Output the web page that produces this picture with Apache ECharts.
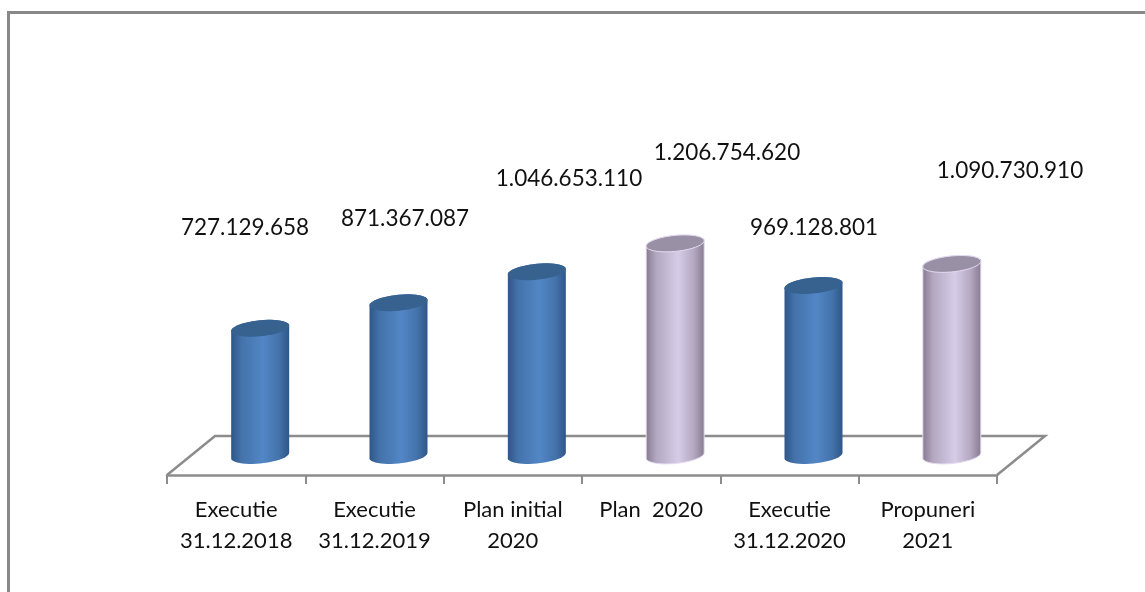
<!DOCTYPE html>
<html><head><meta charset="utf-8">
<style>html,body{margin:0;padding:0;background:#fff}#c{width:1145px;height:592px}</style>
<script src="https://cdn.jsdelivr.net/npm/echarts@6/dist/echarts.min.js"></script>
</head><body><div id="c"></div>
<script>
const categories = ['Executie\n31.12.2018','Executie\n31.12.2019','Plan initial\n2020','Plan  2020','Executie\n31.12.2020','Propuneri\n2021'];
const values = [727129658, 871367087, 1046653110, 1206754620, 969128801, 1090730910];
const valueLabels = ['727.129.658','871.367.087','1.046.653.110','1.206.754.620','969.128.801','1.090.730.910'];
const palette = ['blue','blue','blue','purple','blue','purple'];

const labelAnchors = [[245,228],[405,219],[569,179],[727,153],[814,228],[1010,171]];
const looks = {
  blue:{edge:'#2f5688',mid:'#5286c6',top:'#37618f',rim:'#4473ab',line:'none'},
  purple:{edge:'#85798f',mid:'#d6cce8',top:'#9a90a6',rim:'#b3a8c0',line:'#e4dcf2'}
};
const A = 29, B = 8, S = 2.7, DX = 24, LIFT = 19.5;
function arc(cx,cy,from,to,n){
  const pts=[];
  for(let i=0;i<=n;i++){
    const t=from+(to-from)*i/n;
    pts.push([cx+A*Math.cos(t), cy+B*Math.sin(t)-S*Math.cos(t)]);
  }
  return pts;
}
const chart = echarts.init(document.getElementById('c'),null,{renderer:'canvas'});
chart.setOption({
  animation:false,
  backgroundColor:'#fff',
  grid:{left:167,right:148,top:209.5,bottom:117,containLabel:false},
  xAxis:{type:'category',data:categories,boundaryGap:true,
    axisLine:{show:true,lineStyle:{color:'#8c8c8c',width:2.5}},
    axisTick:{show:true,length:9,alignWithLabel:false,lineStyle:{color:'#8c8c8c',width:2}},
    axisLabel:{interval:0,color:'#111',fontFamily:'Lato',fontSize:22,lineHeight:31,margin:19},
    splitLine:{show:false}},
  yAxis:{type:'value',min:0,max:1500000000,show:false,splitLine:{show:false}},
  graphic:[
    {type:'polyline',z:-1,silent:true,shape:{points:[[167,475],[215,436],[1045,436],[997,475]]},style:{stroke:'#8c8c8c',lineWidth:2.5,fill:null}},
    {type:'polyline',z:-1,silent:true,shape:{points:[[8.5,592],[8.5,12.5],[1145,12.5]]},style:{stroke:'#888888',lineWidth:3,fill:null}}
  ],
  series:[{
    type:'custom',
    coordinateSystem:'cartesian2d',
    clip:false,
    data:values.map((v,i)=>[i,v]),
    encode:{x:0,y:1},
    renderItem(params,api){
      const i=api.value(0);
      const base=api.coord([i,0]), top=api.coord([i,api.value(1)]);
      const cx=base[0]+DX, by=base[1]-LIFT, ty=top[1]-LIFT+1.5;
      const c=looks[palette[i]];
      const body=arc(cx,ty,Math.PI,Math.PI*2,24).concat(arc(cx,by,0,Math.PI,24));
      return {type:'group',children:[
        {type:'polygon',shape:{points:body},style:{
          stroke:c.line,lineWidth:1,
          fill:new echarts.graphic.LinearGradient(0,0,1,0,[
            {offset:0,color:c.edge},{offset:.18,color:c.rim},{offset:.55,color:c.mid},{offset:.82,color:c.rim},{offset:1,color:c.edge}])}},
        {type:'polygon',shape:{points:arc(cx,ty,0,Math.PI*2,48)},style:{fill:c.top,stroke:c.line,lineWidth:1}},
        {type:'text',style:{text:valueLabels[i],x:labelAnchors[i][0],y:labelAnchors[i][1],
          align:'center',verticalAlign:'middle',fill:'#111',font:'22.5px Lato'}}
      ]};
    }
  }]
});
</script></body></html>
